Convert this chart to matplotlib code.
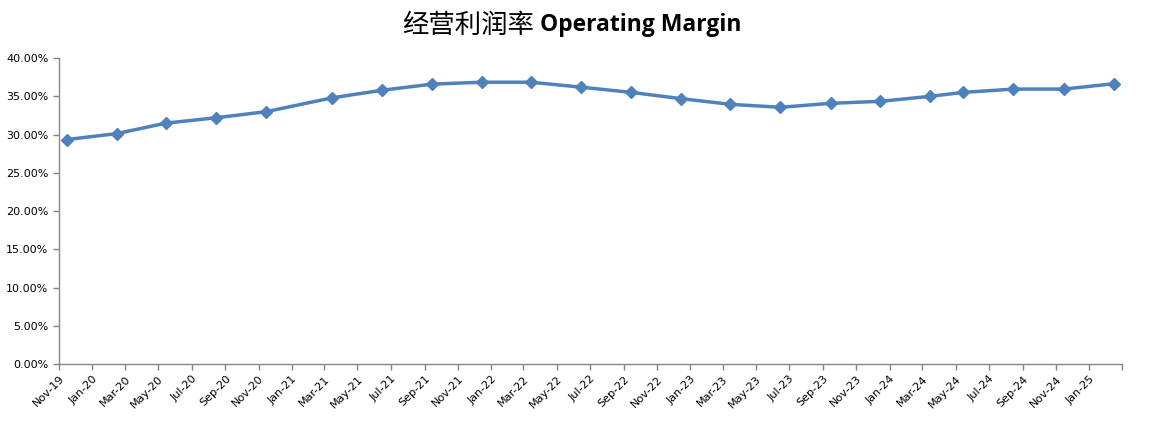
import matplotlib
matplotlib.use("Agg")
import matplotlib.pyplot as plt
from matplotlib.ticker import FuncFormatter
import pandas as pd

# data points
dates = ["2019-11-15", "2020-02-15", "2020-05-15", "2020-08-15", "2020-11-15",
         "2021-03-15", "2021-06-15", "2021-09-15", "2021-12-15", "2022-03-15",
         "2022-06-15", "2022-09-15", "2022-12-15", "2023-03-15", "2023-06-15",
         "2023-09-15", "2023-12-15", "2024-03-15", "2024-05-15", "2024-08-15",
         "2024-11-15", "2025-02-15"]
margin = [29.35, 30.13, 31.5, 32.2, 33.0,
          34.8, 35.8, 36.6, 36.85, 36.85,
          36.2, 35.52, 34.70, 33.96, 33.57,
          34.09, 34.35, 35.0, 35.52, 35.95,
          35.95, 36.65]
title_cn = "经营利润率"
title_en = "Operating Margin"

x = pd.to_datetime(dates)
y = [v / 100 for v in margin]

fig = plt.figure(figsize=(11.55, 4.37), dpi=100)
ax = fig.add_axes([0.051, 0.167, 0.92, 0.70])

ax.plot(x, y, color="#4F81BD", linewidth=2.5, marker="D", markersize=6.5,
        markerfacecolor="#4F81BD", markeredgecolor="#4F81BD")

# axes styling like Excel
ax.set_ylim(0, 0.40)
ax.set_yticks([i * 0.05 for i in range(9)])
ax.yaxis.set_major_formatter(FuncFormatter(lambda v, p: f"{v * 100:.2f}%"))

ticks = pd.date_range("2019-11-01", "2025-03-01", freq="2MS")
ax.set_xlim(ticks[0], ticks[-1])
ax.set_xticks(ticks)
labels = [t.strftime("%b-%y") for t in ticks]
labels[-1] = ""
ax.set_xticklabels(labels, rotation=45, ha="right", rotation_mode="anchor")

for side in ["top", "right"]:
    ax.spines[side].set_visible(False)
for side in ["left", "bottom"]:
    ax.spines[side].set_color("#868686")
    ax.spines[side].set_linewidth(1.0)
ax.tick_params(axis="both", colors="#868686", labelcolor="black", labelsize=8,
               length=4, width=1.0)
ax.tick_params(axis="x", pad=3)

# title: Chinese part + bold English part, centred together
t1 = fig.text(0, 0.942, title_cn, fontsize=19, family=["Noto Sans CJK SC", "DejaVu Sans"],
              va="center", ha="left")
t2 = fig.text(0, 0.942, " " + title_en, fontsize=16.5, weight="bold",
              family=["Open Sans", "DejaVu Sans"], va="center", ha="left")
fig.canvas.draw()
r = fig.canvas.get_renderer()
w1 = t1.get_window_extent(r).width
w2 = t2.get_window_extent(r).width
W = fig.bbox.width
start = 572 - (w1 + w2) / 2
t1.set_x(start / W)
t2.set_x((start + w1) / W)

fig.savefig("out.png", dpi=100)
